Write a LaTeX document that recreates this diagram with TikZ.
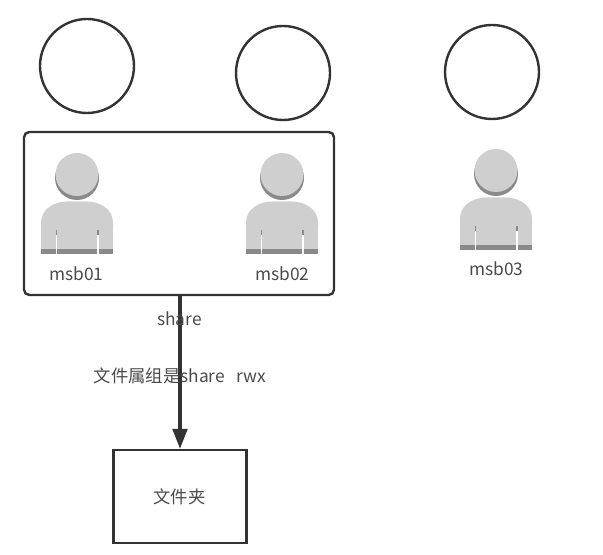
\documentclass[tikz,border=0pt]{standalone}
\usepackage{fontspec}
\setmainfont{Noto Sans CJK SC}
\usetikzlibrary{arrows.meta}
\definecolor{ln}{HTML}{333333}
\definecolor{txt}{HTML}{4A4A4A}
\definecolor{lite}{HTML}{CFCFCF}
\definecolor{dark}{HTML}{8A8A8A}
\tikzset{
  x=0.75pt,y=-0.75pt,
  head/.style={circle,draw=ln,line width=1.8pt,minimum size=70.5pt,inner sep=0pt,fill=white},
  frame/.style={draw=ln,line width=1.8pt,fill=none},
  lbl/.style={text=txt,font=\fontsize{13}{15}\selectfont,inner sep=0pt},
  pics/person/.style={code={
    \fill[dark] (0,1.5) circle[radius=22];
    \fill[lite] (0,-2) circle[radius=21.5];
    \fill[lite] (-36,52) -- (-36,46) .. controls (-36,32) and (-22,25) .. (-10,25) -- (10,25) .. controls (22,25) and (36,32) .. (36,46) -- (36,52) -- cycle;
    \fill[lite] (-36,50) rectangle (36,73);
    \fill[dark] (-36,73) rectangle (36,77.5);
    \fill[dark] (-21.5,54) rectangle (-20,59);
    \fill[dark] (20,54) rectangle (21.5,59);
    \fill[white] (-21.5,59) rectangle (-20,77.5);
    \fill[white] (20,59) rectangle (21.5,77.5);
  }}
}
\begin{document}
\begin{tikzpicture}
\useasboundingbox (0,0) rectangle (603,555);
\node[head] (c1) at (87,66) {};
\node[head] (c2) at (283,73) {};
\node[head] (c3) at (492,72) {};
\node[frame,rounded corners=4pt,minimum width=232.5pt,minimum height=122.25pt,inner sep=0pt] (group) at (179,213.5) {};
\node[frame,minimum width=100pt,minimum height=69.75pt,inner sep=0pt] (folder) at (180,496.5) {};
\pic at (77,176.5) {person};
\pic at (282,176.5) {person};
\pic at (496,172.5) {person};
\draw[ln,line width=2.3pt,-{Triangle[length=15pt,width=11pt]}] (folder.north |- group.south) -- (folder.north);
\node[lbl] (u1) at (76.5,273.5) {msb01};
\node[lbl] (u2) at (282.5,273.5) {msb02};
\node[lbl] (u3) at (496.5,269) {msb03};
\node[lbl] (s) at (179.5,318.5) {share};
\node[lbl] (p) at (180,376) {文件属组是share\ \ \ rwx};
\node[lbl] (f) at (179.5,497) {文件夹};
\end{tikzpicture}
\end{document}
